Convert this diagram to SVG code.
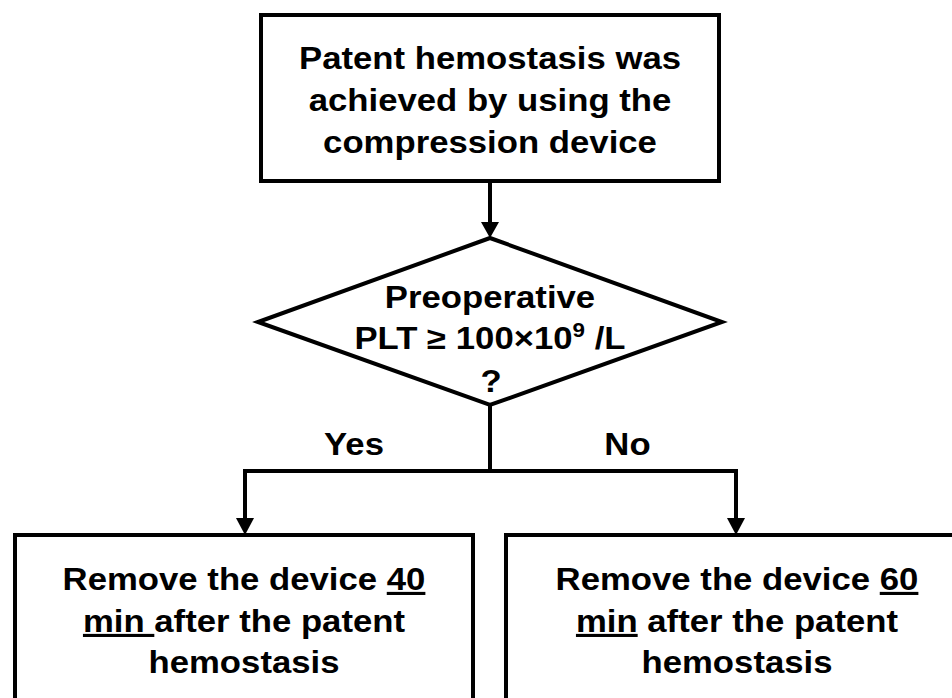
<svg xmlns="http://www.w3.org/2000/svg" width="952" height="698" viewBox="0 0 952 698">
<style>
.box{fill:#fff;stroke:#000;stroke-width:4}
.t{font-family:"Liberation Sans",Arial,sans-serif;font-weight:bold;font-size:31px;fill:#000;text-anchor:middle}
.c{stroke:#000;stroke-width:4;fill:none}
.ah{fill:#000}
.u{text-decoration:underline}
</style>
<rect width="952" height="698" fill="#fff"/>
<g id="start">
<rect class="box" x="261" y="15" width="458" height="166"/>
<text class="t" transform="translate(490 69) scale(1.12 1)">Patent hemostasis was</text>
<text class="t" transform="translate(490 111) scale(1.12 1)">achieved by using the</text>
<text class="t" transform="translate(490 153) scale(1.12 1)">compression device</text>
</g>
<g id="decision">
<polygon class="box" points="490,238 722,322 490,405 258,322"/>
<text class="t" transform="translate(490 308) scale(1.12 1)">Preoperative</text>
<text class="t" transform="translate(490 349) scale(1.12 1)">PLT ≥ 100×10<tspan font-size="20" dy="-12">9</tspan><tspan dy="12"> /L</tspan></text>
<text class="t" transform="translate(491 392) scale(1.12 1)">?</text>
</g>
<g id="connectors">
<line class="c" x1="490" y1="181" x2="490" y2="223"/>
<polygon class="ah" points="481,222 499,222 490,238"/>
<polyline class="c" points="490,405 490,471"/>
<polyline class="c" points="245,519 245,471 736,471 736,519"/>
<polygon class="ah" points="236,518 254,518 245,535"/>
<polygon class="ah" points="727,518 745,518 736,535"/>
<text class="t" transform="translate(354 455) scale(1.12 1)">Yes</text>
<text class="t" transform="translate(627.5 455) scale(1.12 1)">No</text>
</g>
<g id="yes-action">
<rect class="box" x="15" y="535" width="458" height="200"/>
<text class="t" transform="translate(244 590) scale(1.12 1)">Remove the device <tspan class="u">40</tspan></text>
<text class="t" transform="translate(244 632) scale(1.12 1)"><tspan class="u">min </tspan>after the patent</text>
<text class="t" transform="translate(244 673) scale(1.12 1)">hemostasis</text>
</g>
<g id="no-action">
<rect class="box" x="506" y="535" width="460" height="200"/>
<text class="t" transform="translate(737 590) scale(1.12 1)">Remove the device <tspan class="u">60</tspan></text>
<text class="t" transform="translate(737 632) scale(1.12 1)"><tspan class="u">min</tspan> after the patent</text>
<text class="t" transform="translate(737 673) scale(1.12 1)">hemostasis</text>
</g>
</svg>
